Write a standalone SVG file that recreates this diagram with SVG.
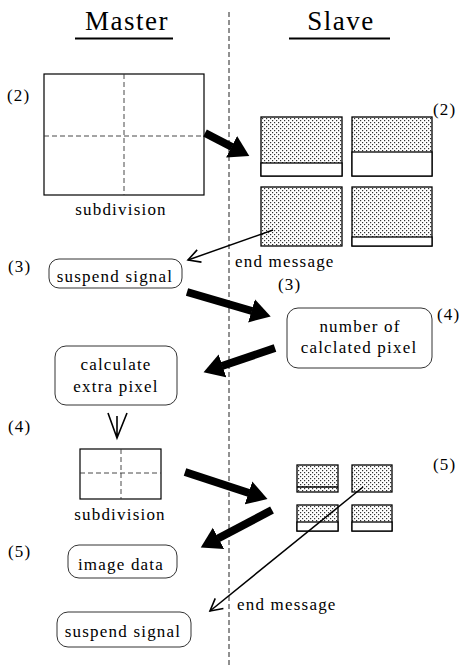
<svg xmlns="http://www.w3.org/2000/svg" width="468" height="665" viewBox="0 0 468 665" font-family="'Liberation Serif', 'Times New Roman', serif">
<defs>
<pattern id="dots" width="4" height="4" patternUnits="userSpaceOnUse">
<rect width="4" height="4" fill="#ffffff"/>
<rect x="0" y="0" width="1.2" height="1.2" fill="#333"/>
<rect x="2" y="2" width="1.2" height="1.2" fill="#333"/>
</pattern>
<marker id="bighead" markerUnits="userSpaceOnUse" viewBox="0 -13 22 26" markerWidth="22" markerHeight="26" refX="0.5" refY="0" orient="auto">
<path d="M0,-12 L20,0 L0,12 z" fill="#000"/>
</marker>
<marker id="openhead" markerUnits="userSpaceOnUse" viewBox="-14 -8 16 16" markerWidth="16" markerHeight="16" refX="0" refY="0" orient="auto">
<path d="M-12,-6.5 L0,0 L-12,6.5" fill="none" stroke="#000" stroke-width="1.6"/>
</marker>
</defs>
<style>
text{font-family:'Liberation Serif','Times New Roman',serif;fill:#000;}
.lbl{font-size:17px;letter-spacing:1.2px;}
.title{font-size:27px;letter-spacing:1.5px;}
.box{fill:#fff;stroke:#333;stroke-width:1;}
.frame{fill:#fff;stroke:#000;stroke-width:1.2;}
.shade{fill:url(#dots);stroke:#000;stroke-width:1.3;}
.div{stroke:#000;stroke-width:1.3;}
.dash{stroke:#333;stroke-width:0.9;stroke-dasharray:5 3;fill:none;}
.thick{stroke:#000;stroke-width:8;fill:none;marker-end:url(#bighead);}
.thin{stroke:#000;stroke-width:1.5;fill:none;marker-end:url(#openhead);}
</style>

<g id="headers">
<text class="title" x="127" y="30" text-anchor="middle" font-family="Liberation Serif">Master</text>
<line x1="75" y1="38.5" x2="173" y2="38.5" stroke="#000" stroke-width="2"/>
<text class="title" x="341" y="30" text-anchor="middle" font-family="Liberation Serif">Slave</text>
<line x1="289" y1="38.5" x2="390" y2="38.5" stroke="#000" stroke-width="2"/>
<line x1="229" y1="12" x2="229" y2="665" stroke="#222" stroke-width="1" stroke-dasharray="5 3"/>
</g>

<g id="labels" font-family="Liberation Serif">
<text class="lbl" x="7" y="101">(2)</text>
<text class="lbl" x="433" y="115">(2)</text>
<text class="lbl" x="8" y="272">(3)</text>
<text class="lbl" x="278" y="290">(3)</text>
<text class="lbl" x="437" y="320">(4)</text>
<text class="lbl" x="8" y="432">(4)</text>
<text class="lbl" x="433" y="470">(5)</text>
<text class="lbl" x="8" y="557">(5)</text>
</g>

<g id="master-subdivision" font-family="Liberation Serif">
<rect class="frame" x="44" y="74" width="160" height="121"/>
<line class="dash" x1="124" y1="74" x2="124" y2="195"/>
<line class="dash" x1="44" y1="136" x2="204" y2="136"/>
<text class="lbl" x="121" y="215" text-anchor="middle">subdivision</text>
</g>

<g id="slave-blocks">
<rect class="shade" x="261" y="117" width="81" height="59"/>
<rect x="261" y="163" width="81" height="13" fill="#fff" stroke="#000" stroke-width="1.3"/>
<rect class="shade" x="352" y="117" width="80" height="59"/>
<rect x="352" y="152" width="80" height="24" fill="#fff" stroke="#000" stroke-width="1.3"/>
<rect class="shade" x="261" y="187" width="81" height="59"/>
<rect class="shade" x="352" y="187" width="80" height="59"/>
<rect x="352" y="237" width="80" height="9" fill="#fff" stroke="#000" stroke-width="1.3"/>
</g>

<g id="end-message-1" font-family="Liberation Serif">
<text class="lbl" x="235" y="267">end message</text>
</g>

<g id="suspend-signal-1" font-family="Liberation Serif">
<rect class="box" x="49" y="259" width="133" height="29" rx="10"/>
<text class="lbl" x="115" y="282" text-anchor="middle">suspend signal</text>
</g>

<g id="number-of-pixel" font-family="Liberation Serif">
<rect class="box" x="287" y="308" width="145" height="60" rx="11"/>
<text class="lbl" x="360" y="332" text-anchor="middle">number of</text>
<text class="lbl" x="359" y="353" text-anchor="middle">calclated pixel</text>
</g>

<g id="calculate-extra" font-family="Liberation Serif">
<rect class="box" x="55" y="346" width="122" height="59" rx="11"/>
<text class="lbl" x="116" y="370" text-anchor="middle">calculate</text>
<text class="lbl" x="116" y="392" text-anchor="middle">extra pixel</text>
</g>

<g id="master-subdivision-2" font-family="Liberation Serif">
<rect class="frame" x="80" y="449" width="81" height="50"/>
<line class="dash" x1="121" y1="449" x2="121" y2="499"/>
<line class="dash" x1="80" y1="473" x2="161" y2="473"/>
<text class="lbl" x="120" y="520" text-anchor="middle">subdivision</text>
</g>

<g id="slave-blocks-2">
<rect class="shade" x="297" y="465" width="41" height="27"/>
<line class="div" x1="297" y1="487" x2="338" y2="487"/>
<rect class="shade" x="352" y="465" width="40" height="27"/>
<rect class="shade" x="297" y="505" width="41" height="26"/>
<rect x="297" y="522" width="41" height="9" fill="#fff" stroke="#000" stroke-width="1.3"/>
<rect class="shade" x="352" y="505" width="40" height="26"/>
<rect x="352" y="522" width="40" height="9" fill="#fff" stroke="#000" stroke-width="1.3"/>
</g>

<g id="image-data" font-family="Liberation Serif">
<rect class="box" x="68" y="545" width="109" height="33" rx="11"/>
<text class="lbl" x="121" y="570" text-anchor="middle">image data</text>
</g>

<g id="end-message-2" font-family="Liberation Serif">
<text class="lbl" x="237" y="610">end message</text>
</g>

<g id="suspend-signal-2" font-family="Liberation Serif">
<rect class="box" x="57" y="612" width="134" height="35" rx="11"/>
<text class="lbl" x="123" y="637" text-anchor="middle">suspend signal</text>
</g>

<g id="connectors">
<line class="thick" x1="205" y1="133" x2="232" y2="147"/>
<line class="thick" x1="187" y1="292" x2="252" y2="311"/>
<line class="thick" x1="275" y1="348" x2="222" y2="366"/>
<line class="thick" x1="185" y1="472" x2="249" y2="493"/>
<line class="thick" x1="272" y1="510" x2="218" y2="538.5"/>
<line class="thin" x1="273" y1="230" x2="188" y2="260"/>
<line class="thin" x1="363" y1="487" x2="210" y2="611"/>
<path d="M117,416 L117,438 M108,413 L117,438 L127,413" fill="none" stroke="#000" stroke-width="1.6"/>
</g>
</svg>
